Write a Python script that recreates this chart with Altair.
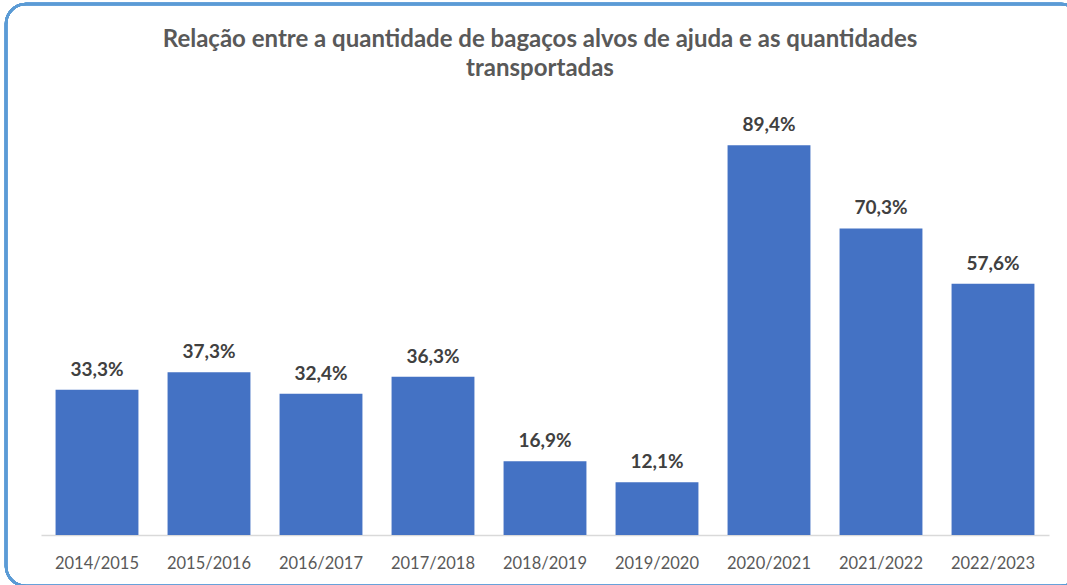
import altair as alt
import pandas as pd

categories = ["2014/2015", "2015/2016", "2016/2017", "2017/2018", "2018/2019",
              "2019/2020", "2020/2021", "2021/2022", "2022/2023"]
values = [33.3, 37.3, 32.4, 36.3, 16.9, 12.1, 89.4, 70.3, 57.6]
labels = ["33,3%", "37,3%", "32,4%", "36,3%", "16,9%", "12,1%", "89,4%", "70,3%", "57,6%"]
title_lines = ["Relação entre a quantidade de bagaços alvos de ajuda e as quantidades",
               "transportadas"]

df = pd.DataFrame({"cat": categories, "val": values, "lab": labels})
tdf = pd.DataFrame({"t": title_lines, "yy": [-52, -23]})

FONT = "Lato"

x = alt.X("cat:N", sort=categories, title=None,
          scale=alt.Scale(paddingInner=0.26, paddingOuter=0.13),
          axis=alt.Axis(labelAngle=0, labelFont=FONT, labelFontSize=16.5,
                        labelColor="#595959", domainColor="#D9D9D9", domainWidth=1.5,
                        ticks=False, labelPadding=33, labelBaseline="alphabetic"))
y = alt.Y("val:Q", scale=alt.Scale(domain=[0, 100]), axis=None)

bars = alt.Chart(df).mark_bar(color="#4472C4").encode(x=x, y=y)
text = alt.Chart(df).mark_text(dy=-14, baseline="alphabetic", font=FONT, fontSize=19,
                               fontWeight="bold", color="#404040").encode(
    x=alt.X("cat:N", sort=categories), y="val:Q", text="lab:N")

title = alt.Chart(tdf).mark_text(baseline="alphabetic", font=FONT, fontSize=24,
                                 fontWeight="bold", color="#595959", clip=False).encode(
    x=alt.value(499), y=alt.Y("yy:Q", scale=None), text="t:N")

border = alt.Chart(df).mark_rect(
    fill=None, stroke="#5B9BD5", strokeWidth=2.5, cornerRadius=20, clip=False
).encode(x=alt.value(-35), x2=alt.value(1040), y=alt.value(-95), y2=alt.value(487))

chart = alt.layer(border, bars, text, title).properties(
    width=1008, height=436,
    autosize=alt.AutoSizeParams(type="none"),
    padding={"left": 41, "top": 99, "right": 18, "bottom": 50},
).configure_view(stroke=None)

chart.save("out.html", embed_options={"renderer": "svg", "actions": False})
